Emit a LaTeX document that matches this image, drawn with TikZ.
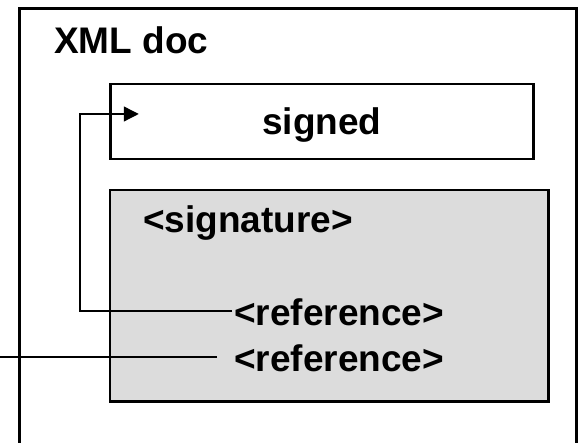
\documentclass[tikz,border=0pt]{standalone}
\usepackage{fontspec}
\setmainfont{Liberation Sans}
\usetikzlibrary{arrows.meta}

\begin{document}
\begin{tikzpicture}[x=1pt,y=1pt,font=\bfseries\fontsize{37}{44}\selectfont]
    \definecolor{Gainsboro}{HTML}{dcdcdc}
    \useasboundingbox (0,0) rectangle (578,443);
    \draw[line width=2.6pt] (19.3,-5) -- (19.3,434.7) -- (576.7,434.7) -- (576.7,-5);
    \node[anchor=base west, inner sep=0pt] (doc) at (54,389) {XML doc};
    \node[draw, line width=2.5pt, minimum width=422.8pt, minimum height=75pt,
          text height=26pt, text depth=0pt] (signed) at (321.9,321.5) {signed};
    \node[draw, line width=2.5pt, fill=Gainsboro, minimum width=438.3pt,
          minimum height=211.5pt] (sig) at (329.15,147.25) {};
    \node[anchor=base west, inner sep=2pt] (siglabel) at (141,210) {<signature>};
    \node[anchor=base west, inner sep=2pt] (refA) at (232,117) {<reference>};
    \node[anchor=base west, inner sep=2pt] (refB) at (232,71) {<reference>};
    \coordinate (out) at (0,86);
    \draw[line width=1.3pt, -{Triangle[length=15pt,width=15pt]}]
        ([yshift=15pt]refA.base west) -- ++(-152,0) |- ([xshift=29.5pt,yshift=7.5pt]signed.west);
    \draw[line width=1.3pt] ([xshift=-15pt,yshift=15pt]refB.base west) -- (out);
\end{tikzpicture}
\end{document}
